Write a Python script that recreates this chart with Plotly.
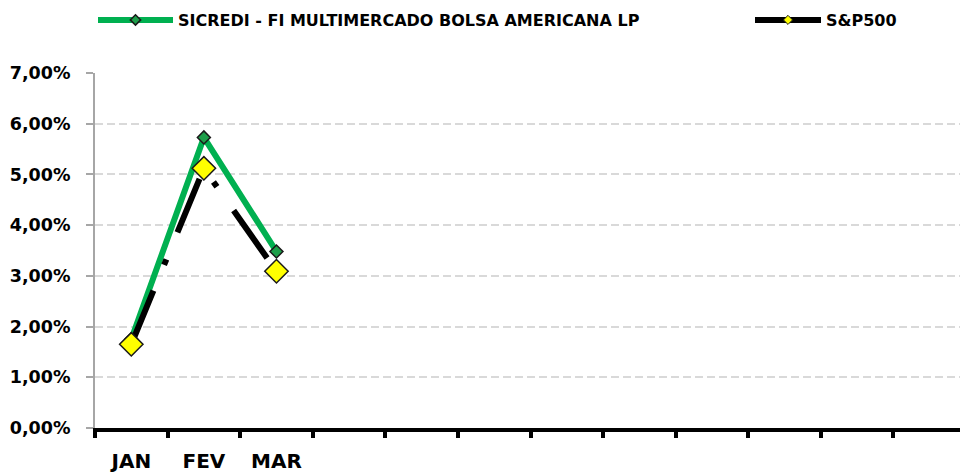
import plotly.graph_objects as go

# Category labels (12 month slots; only first three labelled)
months = ["JAN", "FEV", "MAR"] + [" " * i for i in range(1, 10)]
data_months = ["JAN", "FEV", "MAR"]

sicredi_name = "SICREDI - FI MULTIMERCADO BOLSA AMERICANA LP"
sicredi = [0.0175, 0.0573, 0.0348]
sp500_name = "S&P500"
sp500 = [0.0165, 0.0512, 0.0309]

y_ticks = [0.00, 0.01, 0.02, 0.03, 0.04, 0.05, 0.06, 0.07]

FONT = "DejaVu Sans"
GREEN = "#00B050"

# the page body adds an 8px offset; the figure is sized to fit the window
W, H = 960, 464

fig = go.Figure()
fig.add_trace(go.Scatter(
    x=data_months, y=sicredi, name=sicredi_name, mode="lines+markers",
    showlegend=False,
    line=dict(color=GREEN, width=6),
    marker=dict(symbol="diamond", size=10, color="#1E9E4A",
                line=dict(color="#1a1a1a", width=1.5)),
))
fig.add_trace(go.Scatter(
    x=data_months, y=sp500, name=sp500_name, mode="lines+markers",
    showlegend=False,
    line=dict(color="black", width=6, dash="58px,28px,6px,29px"),
    marker=dict(symbol="diamond", size=18, color="#FFFF00",
                line=dict(color="#1a1a1a", width=1.5)),
))
# legend entries (no data)
fig.add_trace(go.Scatter(
    x=[None], y=[None], name=sicredi_name, mode="lines+markers",
    legend="legend",
    line=dict(color=GREEN, width=6),
    marker=dict(symbol="diamond", size=8, color="#1E9E4A",
                line=dict(color="#1a1a1a", width=1.5)),
))
fig.add_trace(go.Scatter(
    x=[None], y=[None], name=sp500_name, mode="lines+markers",
    legend="legend2",
    line=dict(color="black", width=6),
    marker=dict(symbol="diamond", size=7, color="#FFFF00",
                line=dict(color="#1a1a1a", width=1)),
))

legend_font = dict(family=FONT, size=16, color="black", weight="bold")

fig.update_layout(
    width=W, height=H,
    margin=dict(l=87, r=2, t=65, b=44, autoexpand=False),
    paper_bgcolor="white", plot_bgcolor="white",
    separators=",.",
    font=dict(family=FONT, size=15, color="black", weight="bold"),
    showlegend=True,
    legend=dict(
        orientation="h", xref="container", yref="container",
        x=85 / W, y=1 - 12 / H, xanchor="left", yanchor="middle",
        itemwidth=75, font=legend_font, bgcolor="rgba(0,0,0,0)",
    ),
    legend2=dict(
        orientation="h", xref="container", yref="container",
        x=742 / W, y=1 - 12 / H, xanchor="left", yanchor="middle",
        itemwidth=66, font=legend_font, bgcolor="rgba(0,0,0,0)",
    ),
    xaxis=dict(
        type="category", categoryorder="array", categoryarray=months,
        range=[-0.5, 11.5], tickson="boundaries",
        showline=True, linecolor="black", linewidth=4,
        ticks="outside", ticklen=6, tickwidth=4, tickcolor="black",
        showgrid=False, zeroline=False, tickangle=0,
        tickfont=dict(family=FONT, size=20, color="black", weight="bold"),
        ticklabelstandoff=12,
    ),
    yaxis=dict(
        range=[0, 0.07], tickvals=y_ticks, tickformat=".2%",
        showline=True, linecolor="#A6A6A6", linewidth=2,
        ticks="outside", ticklen=7, tickwidth=1.5, tickcolor="#A6A6A6",
        showgrid=True, gridcolor="#D9D9D9", gridwidth=1.5, griddash="8px,4px",
        zeroline=False,
        tickfont=dict(family=FONT, size=17.5, color="black", weight="bold"),
        ticklabelstandoff=12,
    ),
)

fig.write_html("out.html")
